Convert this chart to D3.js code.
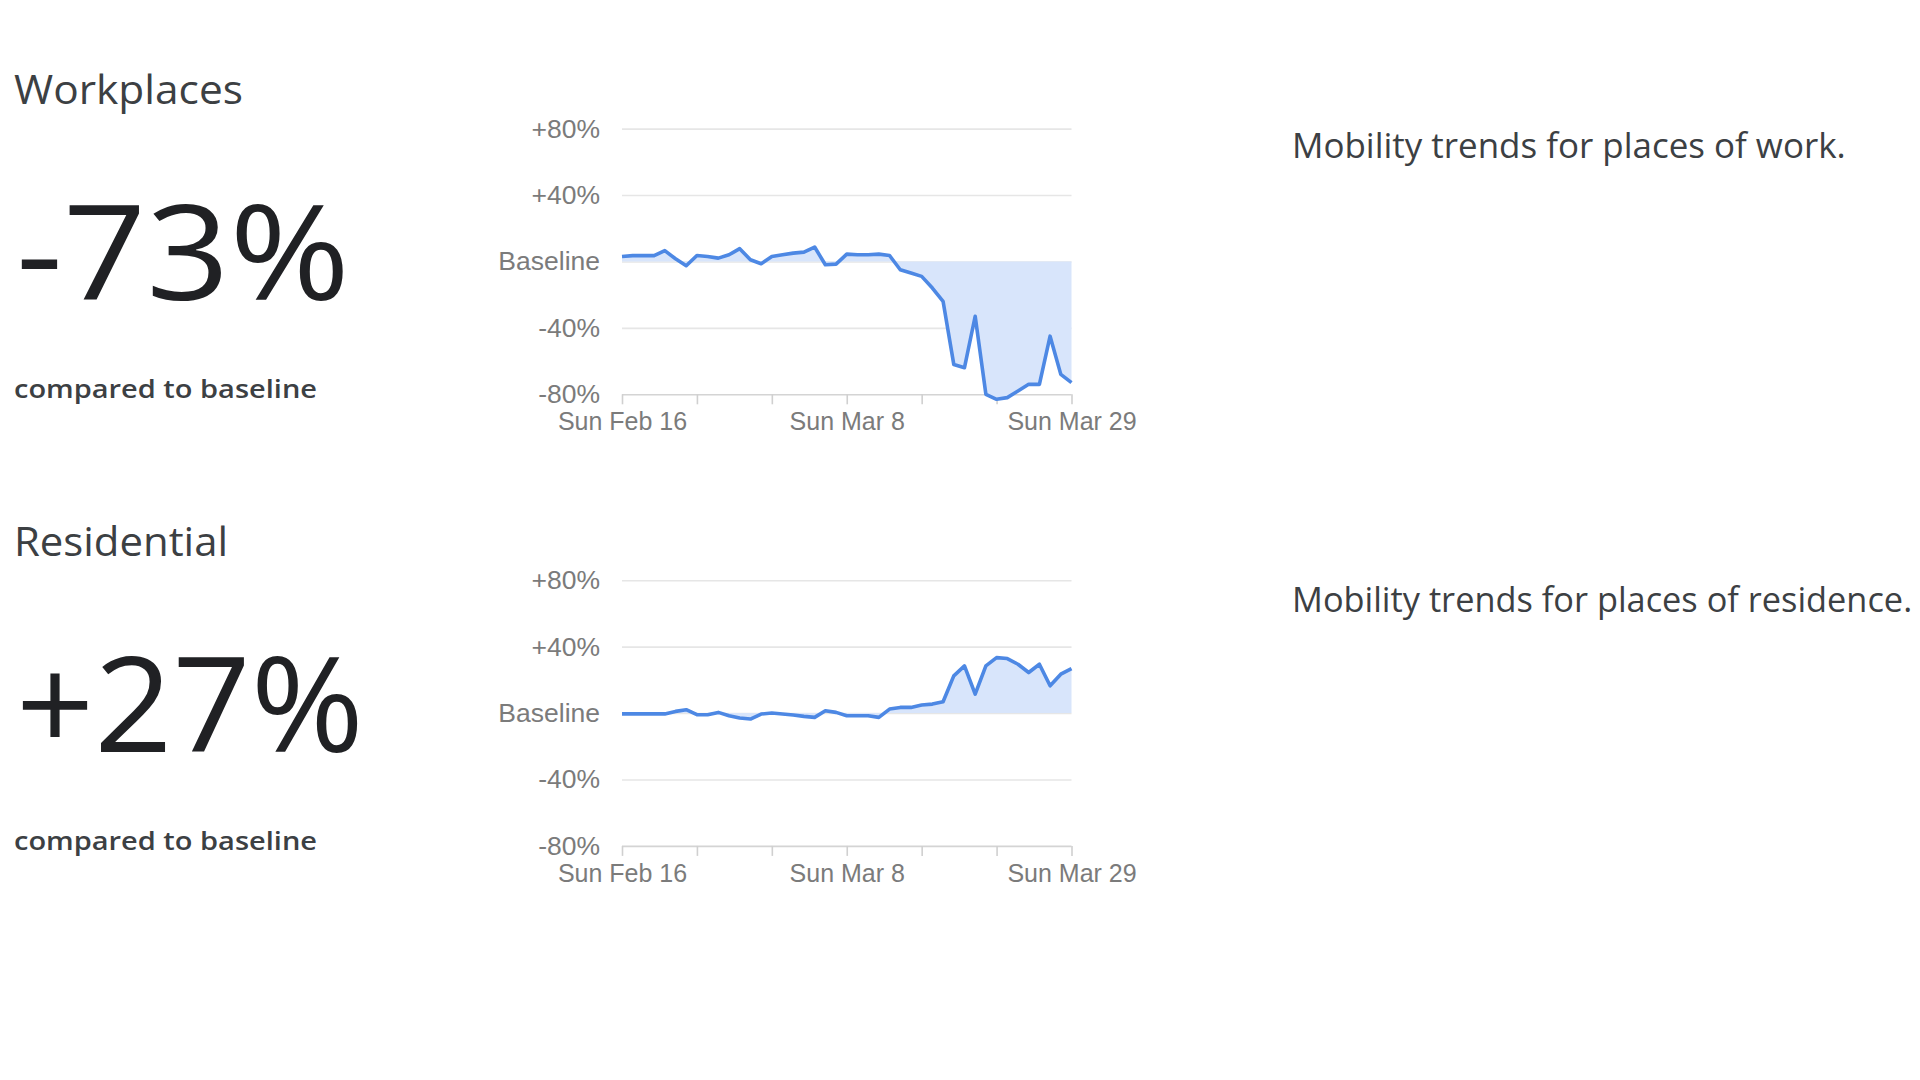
<!DOCTYPE html>
<html>
<head>
<meta charset="utf-8">
<script src="https://cdn.jsdelivr.net/npm/d3@7"></script>
<style>
  html, body { margin: 0; padding: 0; background: #ffffff; }
  svg { display: block; }
</style>
</head>
<body>
<svg id="chart" width="1920" height="1080"></svg>
<script>
// ---------------- data ----------------
const startDate = new Date(2020, 1, 16); // Sun Feb 16 2020, daily values
const workplacesValues = [3, 3.5, 3.5, 3.5, 6.5, 1.6, -2.6, 3.6, 3, 2,
  4, 7.7, 1, -1.4, 3, 4, 5, 5.6, 8.7, -2,
  -1.6, 4.4, 4, 4, 4.4, 3.6, -5, -7, -9, -16,
  -24, -62, -64, -33, -80, -83, -82, -78, -74, -74,
  -45, -68, -73];
const residentialValues = [-0.5, -0.5, -0.5, -0.5, -0.5, 1, 2, -1, -1, 0.4,
  -1.6, -3, -3.6, -0.6, 0, -0.6, -1.2, -2, -2.6, 1.4,
  0.4, -1.6, -1.6, -1.6, -2.6, 2.4, 3.4, 3.4, 4.8, 5.4,
  6.8, 22.4, 28.4, 11.4, 28.4, 33.4, 32.8, 29.4, 24.4, 29.4,
  16.4, 23.4, 26.8];
const yTickValues = [-80, -40, 0, 40, 80];
const yTickLabels = ["-80%", "-40%", "Baseline", "+40%", "+80%"];
const xTickWeeks = [0, 1, 2, 3, 4, 5, 6];
const xTickLabels = ["Sun Feb 16", "", "", "Sun Mar 8", "", "", "Sun Mar 29"];
const panelTitles = ["Workplaces", "Residential"];
const headlineValues = ["-73%", "+27%"];
const descriptions = ["Mobility trends for places of work.", "Mobility trends for places of residence."];
const panelSeries = [workplacesValues, residentialValues];

// ---------------- layout ----------------
const svg = d3.select("#chart");
const panelOffset = 451.6;
const plotLeft = 622, plotRight = 1071.5;
const plotTop = 128.6, plotBottom = 394.3;
const sansFont = "'Open Sans', 'Noto Sans', sans-serif";
const axisFont = "'Liberation Sans', Arial, sans-serif";

const x = d3.scaleTime()
  .domain([startDate, d3.timeDay.offset(startDate, 42)])
  .range([plotLeft, plotRight]);
const y = d3.scaleLinear().domain([-80, 80]).range([plotBottom, plotTop]);

let descSize = 32;

panelSeries.forEach((values, p) => {
  const g = svg.append("g").attr("transform", `translate(0,${p * panelOffset})`);
  const data = values.map((v, i) => ({ date: d3.timeDay.offset(startDate, i), v }));

  // left texts
  g.append("text")
    .attr("x", 14).attr("y", 104)
    .attr("font-family", sansFont).attr("font-size", 40)
    .attr("fill", "#3c4043")
    .attr("textLength", p === 0 ? 229 : 214).attr("lengthAdjust", "spacingAndGlyphs")
    .text(panelTitles[p]);

  g.append("text")
    .attr("x", 16).attr("y", 300)
    .attr("font-family", sansFont).attr("font-size", 132).attr("font-weight", 400)
    .attr("fill", "#202124")
    .attr("textLength", p === 0 ? 334 : 348).attr("lengthAdjust", "spacingAndGlyphs")
    .text(headlineValues[p]);

  g.append("text")
    .attr("x", 14).attr("y", 398)
    .attr("font-family", sansFont).attr("font-size", 25).attr("font-weight", 600)
    .attr("fill", "#3c4043")
    .attr("textLength", 303).attr("lengthAdjust", "spacingAndGlyphs")
    .text("compared to baseline");

  // right description
  const desc = g.append("text")
    .attr("x", 1292).attr("y", p === 0 ? 158 : 160)
    .attr("font-family", sansFont).attr("font-size", 32)
    .attr("fill", "#3c4043")
    .text(descriptions[p]);
  if (p === 0) {
    const w = desc.node().getComputedTextLength();
    descSize = 32 * 554 / w;
  }
  desc.attr("font-size", descSize);
  // keep the text inside the page
  const wNow = desc.node().getComputedTextLength();
  if (1292 + wNow > 1912) desc.attr("font-size", descSize * (1912 - 1292) / wNow);

  // y axis + gridlines
  const yAxis = d3.axisLeft(y)
    .tickValues(yTickValues)
    .tickFormat((d, i) => yTickLabels[i])
    .tickSize(-(plotRight - plotLeft))
    .tickPadding(22);
  const yg = g.append("g").attr("transform", `translate(${plotLeft},0)`).call(yAxis);
  yg.select(".domain").remove();
  yg.selectAll(".tick line")
    .attr("stroke", (d) => d === -80 ? "#d4d4d4" : "#e6e6e6")
    .attr("stroke-width", 1.6);
  yg.selectAll(".tick text")
    .attr("font-family", axisFont).attr("font-size", 26.5)
    .attr("fill", "#7b7b7b");

  // x axis
  const xAxis = d3.axisBottom(x)
    .tickValues(xTickWeeks.map(k => d3.timeDay.offset(startDate, 7 * k)))
    .tickFormat((d, i) => xTickLabels[i])
    .tickSize(10)
    .tickPadding(8);
  const xg = g.append("g").attr("transform", `translate(0,${plotBottom})`).call(xAxis);
  xg.select(".domain").remove();
  xg.selectAll(".tick line").attr("stroke", "#d0d0d0").attr("stroke-width", 1.6);
  xg.selectAll(".tick text")
    .attr("font-family", axisFont).attr("font-size", 25)
    .attr("fill", "#7b7b7b");

  // area + line
  const area = d3.area()
    .x(d => x(d.date)).y0(y(0)).y1(d => y(d.v));
  const line = d3.line()
    .x(d => x(d.date)).y(d => y(d.v));
  g.append("path").datum(data)
    .attr("d", area)
    .attr("fill", "#d8e5fb");
  g.append("path").datum(data)
    .attr("d", line)
    .attr("fill", "none")
    .attr("stroke", "#4d88e4")
    .attr("stroke-width", 3.6)
    .attr("stroke-linejoin", "round");
});
</script>
</body>
</html>
